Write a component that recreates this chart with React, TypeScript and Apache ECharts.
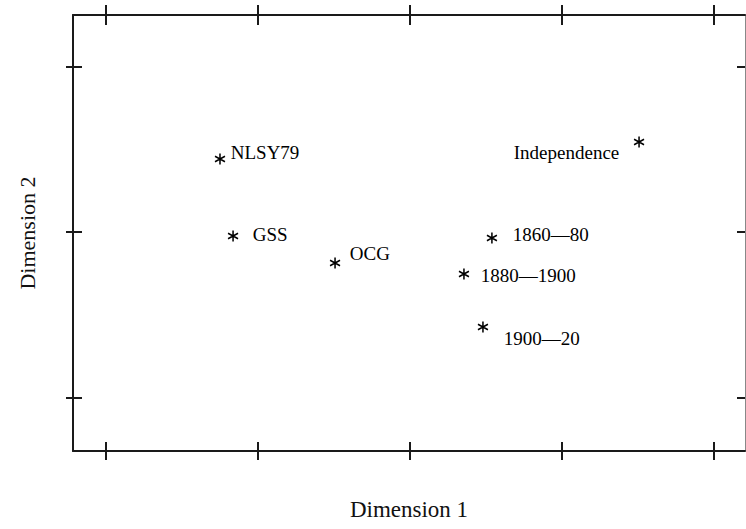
import React, { useEffect, useRef } from "react";
import * as echarts from "echarts";

const names = ["NLSY79", "GSS", "OCG", "Independence", "1860—80", "1880—1900", "1900—20"];
const dim1 = [-1.25, -1.164, -0.493, 1.507, 0.539, 0.355, 0.48];
const dim2 = [0.441, -0.024, -0.187, 0.544, -0.036, -0.254, -0.574];
const xTicks = [-2, -1, 0, 1, 2];
const yTicks = [-1, 0, 1];

// label placement (style)
const labelPos = ["right", "right", "right", "left", "right", "right", "right"];
const labelOffset = [
  [0, -7],
  [9, -1],
  [4, -9],
  [-9, 11],
  [10, -3],
  [6, 1],
  [10, 11],
];

const X_MIN = -2.217;
const X_MAX = 2.204;
const Y_MIN = -1.323;
const Y_MAX = 1.311;

const SERIF = "'Liberation Serif', 'Times New Roman', serif";
const ASTERISK = "path://M5,0L5,10M0.67,2.5L9.33,7.5M0.67,7.5L9.33,2.5";

export default function App() {
  const ref = useRef<HTMLDivElement>(null);
  useEffect(() => {
    if (!ref.current) return;
    const chart = echarts.init(ref.current, null, { renderer: "svg" });
    const dark = "#1a1a1a";
    const xBase = (position: string, inside: boolean, len: number, showLine: boolean, extra: any = {}) => ({
      type: "value",
      position,
      min: X_MIN,
      max: X_MAX,
      axisLine: { show: showLine, onZero: false, lineStyle: { color: dark, width: 2 } },
      axisTick: { show: true, inside, length: len, customValues: xTicks, lineStyle: { color: dark, width: 2 } },
      axisLabel: { show: false },
      splitLine: { show: false },
      ...extra,
    });
    const yBase = (position: string, inside: boolean, len: number, showLine: boolean, lineStyle: any, extra: any = {}) => ({
      type: "value",
      position,
      min: Y_MIN,
      max: Y_MAX,
      axisLine: { show: showLine, onZero: false, lineStyle },
      axisTick: { show: true, inside, length: len, customValues: yTicks, lineStyle: { color: dark, width: 2 } },
      axisLabel: { show: false },
      splitLine: { show: false },
      ...extra,
    });
    const data = names.map((n, i) => ({
      name: n,
      value: [dim1[i], dim2[i]],
      label: {
        show: true,
        position: labelPos[i],
        distance: 5,
        offset: labelOffset[i],
        formatter: "{b}",
        fontFamily: SERIF,
        fontSize: 19,
        color: "#000",
        textBorderWidth: 0,
      },
    }));
    chart.setOption({
      animation: false,
      backgroundColor: "#ffffff",
      grid: { left: 73, right: 1, top: 15, bottom: 78, containLabel: false },
      xAxis: [
        xBase("bottom", false, 9, true, {
          name: "Dimension 1",
          nameLocation: "middle",
          nameGap: 47,
          nameTextStyle: { fontFamily: SERIF, fontSize: 23, color: "#111" },
        }),
        xBase("bottom", true, 9, false),
        xBase("top", false, 10, true),
        xBase("top", true, 10, false),
      ],
      yAxis: [
        yBase("left", false, 7, true, { color: dark, width: 2 }, {
          name: "Dimension 2",
          nameLocation: "middle",
          nameGap: 35,
          nameTextStyle: { fontFamily: SERIF, fontSize: 22, color: "#111" },
        }),
        yBase("left", true, 9, false, {}),
        yBase("right", true, 8, true, { color: "#888", width: 1 }),
      ],
      series: [
        {
          type: "scatter",
          xAxisIndex: 0,
          yAxisIndex: 0,
          symbol: ASTERISK,
          symbolSize: [10, 11],
          itemStyle: { color: "transparent", borderColor: "#000", borderWidth: 1.6, opacity: 1 },
          data,
        },
      ],
    });
    return () => chart.dispose();
  }, []);
  return (
    <div
      ref={ref}
      style={{ position: "absolute", left: 0, top: 0, width: 746, height: 529 }}
    />
  );
}
